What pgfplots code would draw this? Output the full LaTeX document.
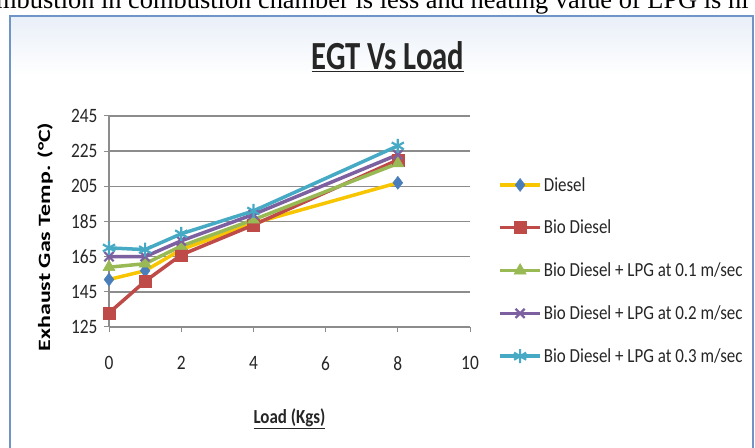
\documentclass[border=0pt]{standalone}
\usepackage{pgfplots}
\pgfplotsset{compat=1.18}
\usepackage{fontspec}
\setmainfont{Carlito}
\newfontfamily\cf[FakeStretch=0.85]{Carlito}
\newfontfamily\cft[FakeStretch=0.77]{Carlito}
\newfontfamily\cfn{Carlito}
\newfontfamily\tnr{Liberation Serif}
\usetikzlibrary{shadings}
\definecolor{cYel}{HTML}{F7C600}
\definecolor{cBlue}{HTML}{4A7EBB}
\definecolor{cRed}{HTML}{BE4B48}
\definecolor{cGreen}{HTML}{98B954}
\definecolor{cPurple}{HTML}{7D60A0}
\definecolor{cCyan}{HTML}{46AAC5}
\definecolor{cGrid}{HTML}{8C8C8C}
\definecolor{cFrame}{HTML}{6F95C8}
\definecolor{cTop}{HTML}{E9EFF8}
\definecolor{cTxt}{HTML}{262626}
\begin{document}
\begin{tikzpicture}[x=1bp,y=1bp]
\useasboundingbox (0,0) rectangle (755,448);
\clip (0,0) rectangle (755,448);
\fill[white] (0,0) rectangle (755,448);
\node[anchor=base west,inner sep=0] at (-4,439) {\tnr\fontsize{26.5}{26.5}\selectfont mbustion in combustion chamber is less and heating value of LPG is hi};
\fill[white] (10,-5) rectangle (753,432);
\shade[top color=cTop,bottom color=white] (10,372) rectangle (753,432);
\draw[cFrame,line width=2.5bp] (10,-5) -- (10,432) -- (753,432) -- (753,-5);
\begin{axis}[
  at={(109bp,121bp)}, anchor=south west,
  scale only axis, width=361bp, height=211bp,
  xmin=0, xmax=10, ymin=125, ymax=245,
  xtick={0,2,...,10}, ytick={125,145,...,245},
  axis x line=bottom, axis y line=left,
  axis line style={cGrid,line width=1.2bp,-},
  ymajorgrids, grid style={cGrid,line width=1.4bp},
  tick align=outside, major tick length=5bp,
  tick style={cGrid,line width=1bp},
  /pgf/number format/assume math mode=true,
  tick label style={font=\cf\fontsize{20.5}{20.5}\selectfont,text=cTxt},
  xticklabel style={yshift=-21bp},
  yticklabel style={xshift=-3bp},
  clip=false,
  title={\cft\bfseries\fontsize{40}{40}\selectfont\underline{EGT Vs Load}},
  title style={at={(axis description cs:0.773,1.255)},anchor=center,text=cTxt},
  xlabel={\cf\bfseries\fontsize{20}{20}\selectfont\underline{Load (Kgs)}},
  xlabel style={at={(axis description cs:0.50,-0.435)},anchor=center,text=cTxt},
  ylabel={\scalebox{1}[0.72]{\cfn\bfseries\fontsize{24}{24}\selectfont Exhaust Gas Temp. (°C)}},
  ylabel style={at={(axis description cs:-0.177,0.427)},anchor=center,text=black},
  legend style={at={(1.078,0.72)},anchor=north west,draw=none,fill=none,
    font=\cf\fontsize{20}{20}\selectfont,text=cTxt,row sep=23.5bp,inner sep=0pt},
  legend cell align=left,
  legend image code/.code={\draw[mark repeat=2,mark phase=2,#1] plot coordinates {(0bp,0bp) (20bp,0bp) (40bp,0bp)};},
  every axis plot/.append style={line width=3.5bp},
]
\addplot[cYel, mark=diamond*, mark size=6.5bp, mark options={cBlue,fill=cBlue,line width=0.5bp}]
  coordinates {(0,152) (1,157) (2,169) (4,184) (8,207)};
\addlegendentry{Diesel}
\addplot[cRed, mark=square*, mark size=6bp, mark options={cRed,fill=cRed,line width=0.5bp}]
  coordinates {(0,133) (1,151) (2,166) (4,183) (8,220)};
\addlegendentry{Bio Diesel}
\addplot[cGreen, mark=triangle*, mark size=7bp, mark options={cGreen,fill=cGreen,line width=0.5bp}]
  coordinates {(0,159) (1,161) (2,171) (4,186) (8,218)};
\addlegendentry{Bio Diesel + LPG at 0.1 m/sec}
\addplot[cPurple, mark=x, mark size=6.5bp, mark options={cPurple,line width=2.2bp}]
  coordinates {(0,165) (1,165) (2,174) (4,189) (8,223)};
\addlegendentry{Bio Diesel + LPG at 0.2 m/sec}
\addplot[cCyan, mark=asterisk, mark size=7bp, mark options={cCyan,line width=2.2bp}]
  coordinates {(0,170) (1,169) (2,178) (4,191) (8,228)};
\addlegendentry{Bio Diesel + LPG at 0.3 m/sec}
\end{axis}
\end{tikzpicture}
\end{document}
